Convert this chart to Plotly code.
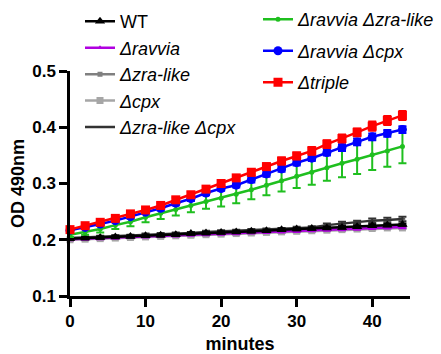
import plotly.graph_objects as go

# Sampling times (minutes)
minutes = [0, 2, 4, 6, 8, 10, 12, 14, 16, 18, 20, 22, 24, 26, 28, 30, 32, 34, 36, 38, 40, 42, 44]

# Mean OD 490nm per strain
wt = [0.202, 0.203, 0.204, 0.205, 0.206, 0.207, 0.208, 0.209, 0.211, 0.212, 0.213, 0.214,
      0.215, 0.216, 0.218, 0.219, 0.220, 0.221, 0.222, 0.223, 0.225, 0.226, 0.227]
ravvia = [0.201, 0.202, 0.203, 0.204, 0.205, 0.206, 0.207, 0.208, 0.209, 0.210, 0.211, 0.212,
          0.213, 0.214, 0.215, 0.216, 0.217, 0.218, 0.219, 0.220, 0.221, 0.222, 0.2225]
zra_like = [0.202, 0.203, 0.204, 0.205, 0.206, 0.207, 0.208, 0.209, 0.210, 0.211, 0.212, 0.213,
            0.214, 0.215, 0.216, 0.217, 0.218, 0.219, 0.220, 0.221, 0.222, 0.223, 0.224]
cpx = [0.200, 0.201, 0.202, 0.203, 0.204, 0.205, 0.206, 0.207, 0.208, 0.209, 0.210, 0.211,
       0.212, 0.213, 0.214, 0.215, 0.216, 0.217, 0.218, 0.219, 0.220, 0.221, 0.221]
zra_cpx = [0.203, 0.204, 0.205, 0.206, 0.207, 0.209, 0.210, 0.211, 0.212, 0.214, 0.215, 0.216,
           0.217, 0.218, 0.219, 0.221, 0.222, 0.226, 0.229, 0.231, 0.234, 0.235, 0.237]
ravvia_zra = [0.209, 0.214, 0.219, 0.226, 0.232, 0.240, 0.247, 0.254, 0.261, 0.268, 0.274, 0.281,
              0.289, 0.297, 0.305, 0.313, 0.320, 0.328, 0.336, 0.343, 0.351, 0.358, 0.366]
ravvia_cpx = [0.217, 0.222, 0.228, 0.234, 0.241, 0.249, 0.256, 0.265, 0.273, 0.283, 0.291, 0.297,
              0.307, 0.317, 0.326, 0.337, 0.345, 0.355, 0.364, 0.374, 0.383, 0.389, 0.396]
triple = [0.218, 0.225, 0.231, 0.238, 0.246, 0.253, 0.261, 0.271, 0.280, 0.290, 0.300, 0.310,
          0.320, 0.330, 0.340, 0.349, 0.358, 0.370, 0.380, 0.391, 0.402, 0.412, 0.421]

# Standard deviations
sd_small = [0.002] * 23
zra_cpx_sd = [0.002, 0.002, 0.002, 0.002, 0.002, 0.002, 0.002, 0.002, 0.002, 0.002, 0.002, 0.002,
              0.002, 0.002, 0.002, 0.002, 0.002, 0.003, 0.003, 0.003, 0.004, 0.004, 0.004]
ravvia_zra_sd = [0.004, 0.005, 0.006, 0.007, 0.008, 0.009, 0.010, 0.011, 0.012, 0.013, 0.015, 0.016,
                 0.017, 0.018, 0.019, 0.021, 0.022, 0.023, 0.025, 0.026, 0.027, 0.028, 0.030]
ravvia_cpx_sd = [0.003, 0.003, 0.003, 0.003, 0.003, 0.003, 0.004, 0.004, 0.004, 0.004, 0.004, 0.004,
                 0.005, 0.005, 0.005, 0.005, 0.005, 0.005, 0.006, 0.006, 0.006, 0.006, 0.006]
triple_sd = [0.003, 0.003, 0.003, 0.003, 0.004, 0.004, 0.004, 0.004, 0.005, 0.005, 0.005, 0.005,
             0.006, 0.006, 0.006, 0.006, 0.007, 0.007, 0.007, 0.007, 0.008, 0.008, 0.008]

x_ticks = [0, 10, 20, 30, 40]
y_ticks = [0.1, 0.2, 0.3, 0.4, 0.5]

FONT = "Liberation Sans, Arial, sans-serif"
W, H = 441, 354
ML, MR, MT, MB = 70, 31, 71, 57.5
PW, PH = W - ML - MR, H - MT - MB


def px_to_paper(px, py):
    """Pixel position in the page -> paper coordinates of the plot area."""
    return (px - ML) / PW, (H - MB - py) / PH


# (name, values, sd, colour, symbol, marker size, legend, rank) in drawing order
series = [
    ("<i>Δcpx</i>", cpx, sd_small, "#a6a6a6", "square", 7, "legend", 4),
    ("<i>Δzra-like</i>", zra_like, sd_small, "#808080", "square", 5, "legend", 3),
    ("<i>Δravvia</i>", ravvia, sd_small, "#b000e0", "triangle-up", 5, "legend", 2),
    ("<i>Δzra-like Δcpx</i>", zra_cpx, zra_cpx_sd, "#333333", "line-ew", 4, "legend", 5),
    ("WT", wt, sd_small, "#000000", "triangle-up", 9, "legend", 1),
    ("<i>Δravvia Δzra-like</i>", ravvia_zra, ravvia_zra_sd, "#1fbf1f", "circle", 5, "legend2", 6),
    ("<i>Δravvia Δcpx</i>", ravvia_cpx, ravvia_cpx_sd, "#0000ff", "circle", 9, "legend2", 7),
    ("<i>Δtriple</i>", triple, triple_sd, "#ff0000", "square", 9, "legend2", 8),
]

fig = go.Figure()
for name, vals, sd, color, symbol, msize, leg, rank in series:
    fig.add_trace(go.Scatter(
        x=minutes, y=vals, name=name, mode="lines+markers",
        line=dict(color=color, width=2.5),
        marker=dict(color=color, symbol=symbol, size=msize,
                    line=dict(color=color, width=1.5 if symbol == "line-ew" else 0)),
        error_y=dict(type="data", array=sd, visible=True, color=color,
                     thickness=2, width=4),
        legend=leg, legendrank=rank, legendgroup=name,
        cliponaxis=False,
    ))

axis_common = dict(
    showline=True, linecolor="black", linewidth=2.5,
    ticks="outside", ticklen=8, tickwidth=2.5, tickcolor="black",
    showgrid=False, zeroline=False, automargin=False,
    tickfont=dict(family=FONT, size=17, color="black", weight="bold"),
    title_font=dict(family=FONT, size=18, color="black", weight="bold"),
)

LEG_FONT = dict(family=FONT, size=18, color="black")
l1x, l1y = px_to_paper(80, 3)
l2x, l2y = px_to_paper(258, 1)

fig.update_layout(
    width=W, height=H,
    margin=dict(l=ML, r=MR, t=MT, b=MB, autoexpand=False),
    paper_bgcolor="white", plot_bgcolor="white",
    font=dict(family=FONT, color="black"),
    xaxis=dict(range=[0, 45], tickvals=x_ticks, ticktext=[str(v) for v in x_ticks],
               ticklabelstandoff=0,
               title=dict(text="minutes", standoff=25), **axis_common),
    yaxis=dict(range=[0.1, 0.5], tickvals=y_ticks, ticktext=[f"{v:.1f}" for v in y_ticks],
               title=dict(text="OD 490nm", standoff=3), **axis_common),
    legend=dict(x=l1x, y=l1y, xanchor="left", yanchor="top",
                font=LEG_FONT, bgcolor="rgba(0,0,0,0)", itemwidth=30, tracegroupgap=0,
                itemsizing="trace"),
    legend2=dict(x=l2x, y=l2y, xanchor="left", yanchor="top",
                 font=LEG_FONT, bgcolor="rgba(0,0,0,0)", itemwidth=30, tracegroupgap=5,
                 itemsizing="trace"),
)

fig.write_html("out.html")
